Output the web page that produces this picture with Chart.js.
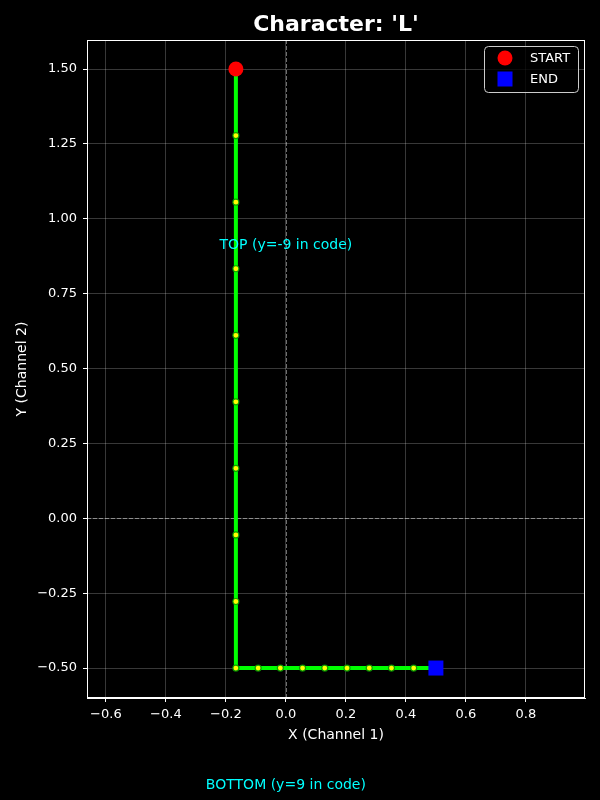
<!DOCTYPE html>
<html><head><meta charset="utf-8">
<script src="https://cdn.jsdelivr.net/npm/chart.js@4"></script>
<style>html,body{margin:0;padding:0;background:#000;}#wrap{width:600px;height:800px;}</style>
</head><body><div id="wrap"><canvas id="c" width="600" height="800"></canvas></div>
<script>
const titleText = "Character: 'L'";
const pathX = [-0.1667,-0.1667,-0.1667,-0.1667,-0.1667,-0.1667,-0.1667,-0.1667,-0.1667,-0.1667,-0.0926,-0.0185,0.0556,0.1296,0.2037,0.2778,0.3519,0.4259,0.5];
const pathY = [1.5,1.2778,1.0556,0.8333,0.6111,0.3889,0.1667,-0.0556,-0.2778,-0.5,-0.5,-0.5,-0.5,-0.5,-0.5,-0.5,-0.5,-0.5,-0.5];
const startPoint = {x:-0.1667, y:1.5};
const endPoint = {x:0.5, y:-0.5};
const xTicks = [-0.6,-0.4,-0.2,0.0,0.2,0.4,0.6,0.8];
const yTicks = [-0.5,-0.25,0,0.25,0.5,0.75,1.0,1.25,1.5];
const xLimits = [-0.663, 0.997];
const yLimits = [-0.6, 1.597];
const notes = [
  {text:'TOP (y=-9 in code)', x:0, y:0.91},
  {text:'BOTTOM (y=9 in code)', x:0, y:-0.891}
];
const legendItems = [
  {label:'START', color:'#ff0000', shape:'circle'},
  {label:'END', color:'#0000ff', shape:'square'}
];

const FONT = "'DejaVu Sans', sans-serif";
const minusFmt = (v, d) => { const s = Math.abs(v).toFixed(d); return (v < -1e-9 ? '\u2212' : '') + s; };

const extras = {
  id:'extras',
  beforeDatasetsDraw(chart){
    const {ctx, chartArea:a, scales:{x,y}} = chart;
    ctx.save();
    ctx.strokeStyle = 'rgba(255,255,255,0.55)';
    ctx.lineWidth = 0.8;
    ctx.setLineDash([4,2]);
    const px = Math.round(x.getPixelForValue(0))+0.5, py = Math.round(y.getPixelForValue(0))+0.5;
    ctx.beginPath(); ctx.moveTo(px, a.top); ctx.lineTo(px, a.bottom); ctx.stroke();
    ctx.beginPath(); ctx.moveTo(a.left, py); ctx.lineTo(a.right, py); ctx.stroke();
    ctx.restore();
  },
  afterDraw(chart){
    const {ctx, chartArea:a, scales:{x,y}} = chart;
    ctx.save();
    ctx.strokeStyle = '#ffffff'; ctx.lineWidth = 1;
    ctx.strokeRect(a.left+0.5, a.top+0.5, a.right-a.left-1, a.bottom-a.top-1);
    ctx.fillStyle = '#ffffff';
    ctx.font = 'bold 22px ' + FONT;
    ctx.textAlign = 'center'; ctx.textBaseline = 'middle';
    ctx.fillText(titleText, (a.left+a.right)/2, 25);
    ctx.font = '14px ' + FONT;
    ctx.fillStyle = '#00ffff';
    notes.forEach(n => ctx.fillText(n.text, x.getPixelForValue(n.x), y.getPixelForValue(n.y)));
    const lx = a.right - 101, ly = a.top + 6, lw = 94, lh = 46;
    ctx.beginPath();
    ctx.roundRect(lx+0.5, ly+0.5, lw, lh, 4);
    ctx.fillStyle = 'rgba(0,0,0,0.8)'; ctx.fill();
    ctx.strokeStyle = '#cccccc'; ctx.lineWidth = 1; ctx.stroke();
    legendItems.forEach((it, i) => {
      const cy = ly + 12 + i*21, cx = lx + 21;
      ctx.fillStyle = it.color;
      if (it.shape === 'circle') { ctx.beginPath(); ctx.arc(cx, cy, 7.5, 0, Math.PI*2); ctx.fill(); }
      else ctx.fillRect(cx-7.5, cy-7.5, 15, 15);
      ctx.fillStyle = '#ffffff'; ctx.textAlign = 'left'; ctx.textBaseline = 'middle';
      ctx.font = '13px ' + FONT;
      ctx.fillText(it.label, lx + 46, cy + 1);
    });
    ctx.restore();
  }
};

new Chart(document.getElementById('c'), {
  type:'scatter',
  data:{
    datasets:[
      {label:'path', data: pathX.map((v,i)=>({x:v, y:pathY[i]})), showLine:true,
       borderColor:'#00ff00', borderWidth:4, pointRadius:3, pointBackgroundColor:'#ffff00',
       pointBorderColor:'rgba(0,150,0,0.9)', pointBorderWidth:1.2, order:3},
      {label:'START', data:[startPoint], pointRadius:7.5, pointBackgroundColor:'#ff0000', pointBorderWidth:0, order:1},
      {label:'END', data:[endPoint], pointStyle:'rect', pointRadius:10.6, pointBackgroundColor:'#0000ff', pointBorderWidth:0, order:1}
    ]
  },
  options:{
    responsive:false, animation:false,
    layout:{padding:{top:40, right:15, bottom:52, left:0}},
    plugins:{legend:{display:false}, tooltip:{enabled:false}, title:{display:false}},
    scales:{
      x:{type:'linear', min:xLimits[0], max:xLimits[1],
        afterBuildTicks:s=>{s.ticks = xTicks.map(v=>({value:v}));},
        afterFit:s=>{s.height = 50;},
        ticks:{color:'#ffffff', font:{family:FONT, size:13}, padding:5, maxRotation:0, callback:v=>minusFmt(v,1)},
        grid:{color:'rgba(255,255,255,0.22)', lineWidth:1, tickColor:'#ffffff', tickLength:4},
        border:{color:'#ffffff'},
        title:{display:true, text:'X (Channel 1)', color:'#ffffff', font:{family:FONT, size:14}, padding:{top:0,bottom:4}}
      },
      y:{type:'linear', min:yLimits[0], max:yLimits[1],
        afterBuildTicks:s=>{s.ticks = yTicks.map(v=>({value:v}));},
        afterFit:s=>{s.width = 87;},
        ticks:{color:'#ffffff', font:{family:FONT, size:13}, padding:6, callback:v=>minusFmt(v,2)},
        grid:{color:'rgba(255,255,255,0.22)', lineWidth:1, tickColor:'#ffffff', tickLength:4},
        border:{color:'#ffffff'},
        title:{display:true, text:'Y (Channel 2)', color:'#ffffff', font:{family:FONT, size:14}, padding:{top:14,bottom:0}}
      }
    }
  },
  plugins:[extras]
});
</script></body></html>
